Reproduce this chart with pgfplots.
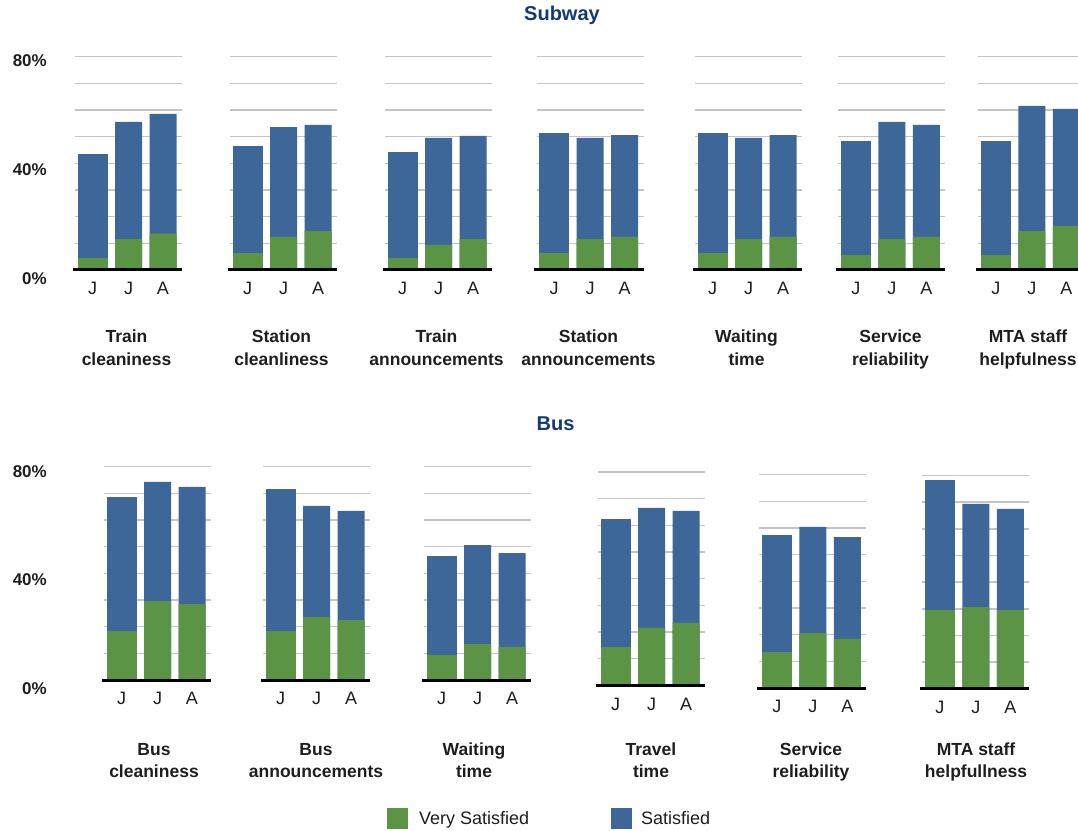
\documentclass[border=0pt]{standalone}
\usepackage{pgfplots}
\pgfplotsset{compat=1.18}
\usepackage{fontspec}
\setmainfont{Liberation Sans}

\definecolor{vsgreen}{RGB}{91,148,69}
\definecolor{satblue}{RGB}{62,103,153}
\definecolor{gridgray}{RGB}{196,196,196}
\definecolor{titleblue}{RGB}{18,57,122}
\definecolor{ink}{RGB}{30,30,30}

\pgfplotsset{
  panel/.style={
    scale only axis, width=107pt, height=213.333pt,
    xmin=0, xmax=107, ymin=0, ymax=80,
    anchor=south west, clip=false,
    axis line style={draw=none}, major tick length=0pt,
    ytick={10,20,...,80}, yticklabel={\relax},
    ymajorgrids, grid style={line width=1.6pt, gridgray},
    xtick={17.5,53.5,88}, xticklabels={J,J,A},
    xticklabel style={anchor=base, yshift=-24.7pt, inner sep=0pt,
      font=\fontsize{18}{20}\selectfont, text=ink},
  },
  wide/.style={ybar, bar width=30pt, bar shift=0pt, draw=none},
  narrow/.style={ybar, bar width=27pt, bar shift=0pt, draw=none},
}
% category caption: two centred lines under a panel
\newcommand{\cat}[4]{%
  \node[anchor=base, inner sep=0pt, text=ink, font=\fontsize{17.5}{20}\selectfont\bfseries] at (#1pt,#2pt) {#3};
  \node[anchor=base, inner sep=0pt, text=ink, font=\fontsize{17.5}{20}\selectfont\bfseries] at (#1pt,#2pt-22.5pt) {#4};}
\newcommand{\pct}[2]{%
  \node[anchor=east, inner sep=0pt, text=ink, font=\fontsize{17}{20}\selectfont\bfseries] at (47pt,#1pt) {#2};}
\newcommand{\baseline}{\draw[line width=3pt, black] (axis cs:-2.5,0) -- (axis cs:107,0);}

\begin{document}
\begin{tikzpicture}[x=1pt, y=1pt]
\useasboundingbox (0pt,0pt) rectangle (1078pt,830pt);

% ---------------- Subway ----------------
\node[anchor=base, inner sep=0pt, text=titleblue, font=\fontsize{20}{24}\selectfont\bfseries] at (562pt,809.3pt) {Subway};
\pct{769}{80\%}
\pct{660.5}{40\%}
\pct{551}{0\%}

% bars: blue = overall satisfied (satisfied + very satisfied), green = very satisfied
\begin{axis}[panel, at={(75pt,560pt)}]
  \addplot[wide, fill=satblue] coordinates {(17.5,43.5)};
  \addplot[narrow, fill=satblue] coordinates {(53.5,55.5) (88,58.5)};
  \addplot[wide, fill=vsgreen] coordinates {(17.5,4.5)};
  \addplot[narrow, fill=vsgreen] coordinates {(53.5,11.6) (88,13.6)};
  \baseline
\end{axis}
\cat{126.5}{487.3}{Train}{cleaniness}

\begin{axis}[panel, at={(230pt,560pt)}]
  \addplot[wide, fill=satblue] coordinates {(17.5,46.5)};
  \addplot[narrow, fill=satblue] coordinates {(53.5,53.6) (88,54.4)};
  \addplot[wide, fill=vsgreen] coordinates {(17.5,6.5)};
  \addplot[narrow, fill=vsgreen] coordinates {(53.5,12.4) (88,14.6)};
  \baseline
\end{axis}
\cat{281.5}{487.3}{Station}{cleanliness}

\begin{axis}[panel, at={(385pt,560pt)}]
  \addplot[wide, fill=satblue] coordinates {(17.5,44.3)};
  \addplot[narrow, fill=satblue] coordinates {(53.5,49.5) (88,50.3)};
  \addplot[wide, fill=vsgreen] coordinates {(17.5,4.5)};
  \addplot[narrow, fill=vsgreen] coordinates {(53.5,9.4) (88,11.6)};
  \baseline
\end{axis}
\cat{436.5}{487.3}{Train}{announcements}

\begin{axis}[panel, at={(536.7pt,560pt)}]
  \addplot[wide, fill=satblue] coordinates {(17.5,51.4)};
  \addplot[narrow, fill=satblue] coordinates {(53.5,49.5) (88,50.6)};
  \addplot[wide, fill=vsgreen] coordinates {(17.5,6.4)};
  \addplot[narrow, fill=vsgreen] coordinates {(53.5,11.6) (88,12.4)};
  \baseline
\end{axis}
\cat{588.5}{487.3}{Station}{announcements}

\begin{axis}[panel, at={(695pt,560pt)}]
  \addplot[wide, fill=satblue] coordinates {(17.5,51.4)};
  \addplot[narrow, fill=satblue] coordinates {(53.5,49.5) (88,50.6)};
  \addplot[wide, fill=vsgreen] coordinates {(17.5,6.4)};
  \addplot[narrow, fill=vsgreen] coordinates {(53.5,11.6) (88,12.4)};
  \baseline
\end{axis}
\cat{746.5}{487.3}{Waiting}{time}

\begin{axis}[panel, at={(838.3pt,560pt)}]
  \addplot[wide, fill=satblue] coordinates {(17.5,48.4)};
  \addplot[narrow, fill=satblue] coordinates {(53.5,55.5) (88,54.4)};
  \addplot[wide, fill=vsgreen] coordinates {(17.5,5.6)};
  \addplot[narrow, fill=vsgreen] coordinates {(53.5,11.6) (88,12.4)};
  \baseline
\end{axis}
\cat{890.5}{487.3}{Service}{reliability}

\begin{axis}[panel, at={(978.3pt,560pt)}]
  \addplot[wide, fill=satblue] coordinates {(17.5,48.4)};
  \addplot[narrow, fill=satblue] coordinates {(53.5,61.5) (88,60.4)};
  \addplot[wide, fill=vsgreen] coordinates {(17.5,5.6)};
  \addplot[narrow, fill=vsgreen] coordinates {(53.5,14.6) (88,16.5)};
  \baseline
\end{axis}
\cat{1028}{487.3}{MTA staff}{helpfulness}

% ---------------- Bus ----------------
\node[anchor=base, inner sep=0pt, text=titleblue, font=\fontsize{20}{24}\selectfont\bfseries] at (555.5pt,399.3pt) {Bus};
\pct{358.7}{80\%}
\pct{250.5}{40\%}
\pct{141}{0\%}

\begin{axis}[panel, at={(104pt,150pt)}]
  \addplot[wide, fill=satblue] coordinates {(17.5,68.6)};
  \addplot[narrow, fill=satblue] coordinates {(53.5,74.3) (88,72.4)};
  \addplot[wide, fill=vsgreen] coordinates {(17.5,18.4)};
  \addplot[narrow, fill=vsgreen] coordinates {(53.5,29.6) (88,28.5)};
  \baseline
\end{axis}
\cat{154}{75}{Bus}{cleaniness}

\begin{axis}[panel, at={(263pt,150pt)}]
  \addplot[wide, fill=satblue] coordinates {(17.5,71.6)};
  \addplot[narrow, fill=satblue] coordinates {(53.5,65.3) (88,63.4)};
  \addplot[wide, fill=vsgreen] coordinates {(17.5,18.4)};
  \addplot[narrow, fill=vsgreen] coordinates {(53.5,23.6) (88,22.5)};
  \baseline
\end{axis}
\cat{316}{75}{Bus}{announcements}

\begin{axis}[panel, at={(424pt,150pt)}]
  \addplot[wide, fill=satblue] coordinates {(17.5,46.5)};
  \addplot[narrow, fill=satblue] coordinates {(53.5,50.6) (88,47.6)};
  \addplot[wide, fill=vsgreen] coordinates {(17.5,9.4)};
  \addplot[narrow, fill=vsgreen] coordinates {(53.5,13.5) (88,12.4)};
  \baseline
\end{axis}
\cat{474}{75}{Waiting}{time}

\begin{axis}[panel, at={(598pt,144.7pt)}]
  \addplot[wide, fill=satblue] coordinates {(17.5,62.4)};
  \addplot[narrow, fill=satblue] coordinates {(53.5,66.5) (88,65.4)};
  \addplot[wide, fill=vsgreen] coordinates {(17.5,14.4)};
  \addplot[narrow, fill=vsgreen] coordinates {(53.5,21.5) (88,23.4)};
  \baseline
\end{axis}
\cat{651}{75}{Travel}{time}

\begin{axis}[panel, at={(759.3pt,142pt)}]
  \addplot[wide, fill=satblue] coordinates {(17.5,57.4)};
  \addplot[narrow, fill=satblue] coordinates {(53.5,60.4) (88,56.6)};
  \addplot[wide, fill=vsgreen] coordinates {(17.5,13.5)};
  \addplot[narrow, fill=vsgreen] coordinates {(53.5,20.6) (88,18.4)};
  \baseline
\end{axis}
\cat{811}{75}{Service}{reliability}

\begin{axis}[panel, at={(922.3pt,141.3pt)}]
  \addplot[wide, fill=satblue] coordinates {(17.5,78.3)};
  \addplot[narrow, fill=satblue] coordinates {(53.5,69.3) (88,67.4)};
  \addplot[wide, fill=vsgreen] coordinates {(17.5,29.5)};
  \addplot[narrow, fill=vsgreen] coordinates {(53.5,30.6) (88,29.5)};
  \baseline
\end{axis}
\cat{976}{75}{MTA staff}{helpfullness}

% ---------------- Legend ----------------
\fill[vsgreen] (386.5pt,1pt) rectangle (407.5pt,22pt);
\node[anchor=base west, inner sep=0pt, text=ink, font=\fontsize{18}{20}\selectfont] at (419pt,5.3pt) {Very Satisfied};
\fill[satblue] (610.5pt,1pt) rectangle (631.5pt,22pt);
\node[anchor=base west, inner sep=0pt, text=ink, font=\fontsize{18}{20}\selectfont] at (641pt,5.3pt) {Satisfied};
\end{tikzpicture}
\end{document}
